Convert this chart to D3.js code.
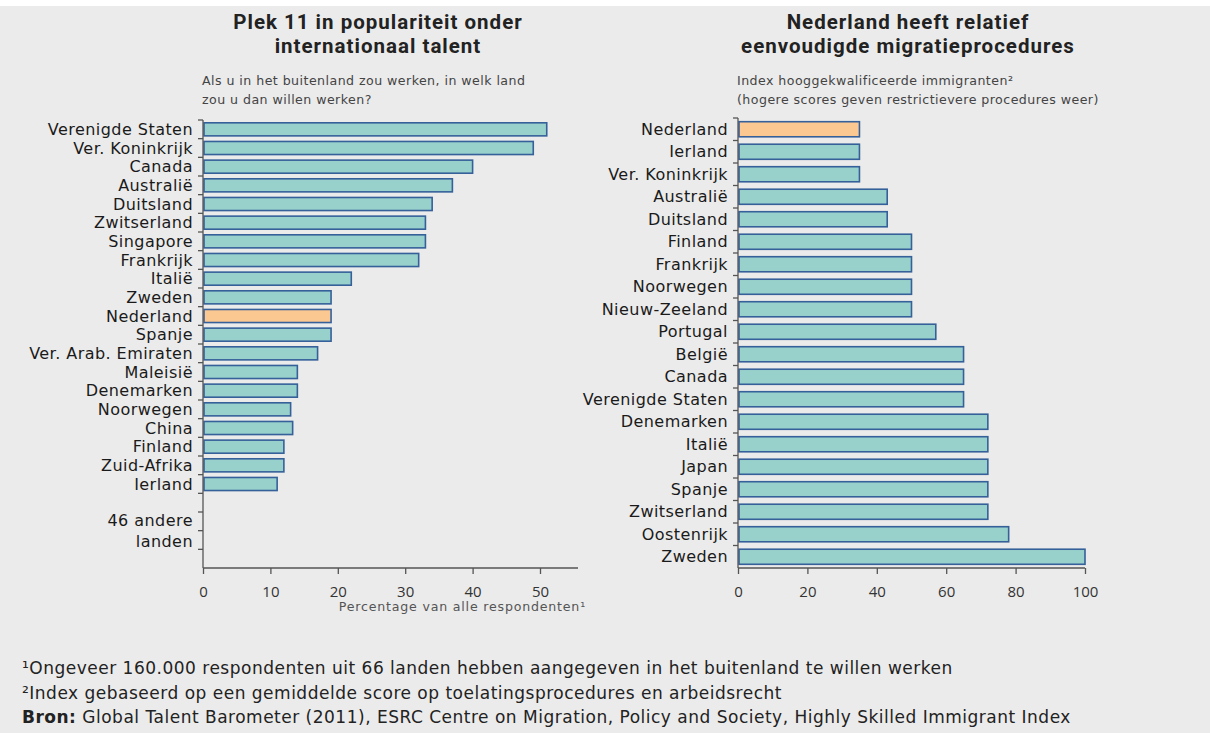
<!DOCTYPE html>
<html>
<head>
<meta charset="utf-8">
<script src="https://cdn.jsdelivr.net/npm/d3@7"></script>
<style>
  html, body { margin: 0; padding: 0; background: #ebebeb; }
  svg { display: block; }
</style>
</head>
<body>
<svg id="chart" width="1210" height="733"></svg>
<script>
// ---------- DATA ----------
const leftCategories = ["Verenigde Staten","Ver. Koninkrijk","Canada","Australië","Duitsland","Zwitserland","Singapore","Frankrijk","Italië","Zweden","Nederland","Spanje","Ver. Arab. Emiraten","Maleisië","Denemarken","Noorwegen","China","Finland","Zuid-Afrika","Ierland"];
const leftValues = [51,49,40,37,34,33,33,32,22,19,19,19,17,14,14,13,13.3,12,12,11];
const leftOtherLabel = ["46 andere", "landen"];
const leftTicks = [0,10,20,30,40,50];

const rightCategories = ["Nederland","Ierland","Ver. Koninkrijk","Australië","Duitsland","Finland","Frankrijk","Noorwegen","Nieuw-Zeeland","Portugal","België","Canada","Verenigde Staten","Denemarken","Italië","Japan","Spanje","Zwitserland","Oostenrijk","Zweden"];
const rightValues = [35,35,35,43,43,50,50,50,50,57,65,65,65,72,72,72,72,72,78,100];
const rightTicks = [0,20,40,60,80,100];

const highlight = "Nederland";

const leftTitle = ["Plek 11 in populariteit onder","internationaal talent"];
const leftSubtitle = ["Als u in het buitenland zou werken, in welk land","zou u dan willen werken?"];
const leftAxisTitle = "Percentage van alle respondenten¹";
const rightTitle = ["Nederland heeft relatief","eenvoudigde migratieprocedures"];
const rightSubtitle = ["Index hooggekwalificeerde immigranten²","(hogere scores geven restrictievere procedures weer)"];
const footnotes = [
  {bold: "", text: "¹Ongeveer 160.000 respondenten uit 66 landen hebben aangegeven in het buitenland te willen werken"},
  {bold: "", text: "²Index gebaseerd op een gemiddelde score op toelatingsprocedures en arbeidsrecht"},
  {bold: "Bron:", text: " Global Talent Barometer (2011), ESRC Centre on Migration, Policy and Society, Highly Skilled Immigrant Index"}
];

// ---------- STYLE ----------
const BAR_FILL = "#98d0cb";
const BAR_HL = "#fcc891";
const BAR_STROKE = "#35609a";
const AXIS = "#555";
const BODY_FONT = "'DejaVu Sans', sans-serif";
const TITLE_FONT = "Roboto, 'Liberation Sans', sans-serif";
const TICK_FONT = "'Open Sans', 'Noto Sans', sans-serif";

const svg = d3.select("#chart");
svg.append("rect").attr("width",1210).attr("height",733).attr("fill","#ebebeb");
svg.append("rect").attr("width",1210).attr("height",6).attr("fill","#ffffff");

function drawPanel(opts) {
  const g = svg.append("g");
  const x = d3.scaleLinear().domain(opts.xDomain).range([opts.x0, opts.x1]);
  const y = d3.scaleBand().domain(opts.slots).range([opts.yTop, opts.yBottom]).paddingInner(opts.pad).paddingOuter(opts.pad/2);
  const yLine = d3.scaleBand().domain(opts.slots).range([opts.yTop, opts.yBottom]);

  // title
  opts.title.forEach((t,i) => {
    g.append("text").attr("x", opts.titleX).attr("y", 29 + i*24.3)
      .attr("text-anchor","middle").style("font-size", "20.5px").style("font-weight", 700)
      .style("font-family", TITLE_FONT).style("letter-spacing", "1px")
      .attr("fill", "#222").text(t);
  });
  // subtitle
  opts.subtitle.forEach((t,i) => {
    g.append("text").attr("x", opts.x0 - 1).attr("y", 85 + i*18.5)
      .style("font-family", BODY_FONT).style("font-size", "12.6px").style("letter-spacing", "0.45px")
      .attr("fill", "#444").text(t);
  });

  // bars
  g.selectAll("rect.bar").data(opts.categories).join("rect")
    .attr("class","bar")
    .attr("x", x(0) + 1)
    .attr("y", d => y(d))
    .attr("width", (d,i) => x(opts.values[i]) - x(0) - 1)
    .attr("height", y.bandwidth())
    .attr("fill", d => d === highlight ? BAR_HL : BAR_FILL)
    .attr("stroke", BAR_STROKE).attr("stroke-width", 1.6);

  // y axis line + ticks at boundaries
  g.append("line").attr("x1", x(0)).attr("x2", x(0))
    .attr("y1", opts.yTop).attr("y2", opts.yBottom).attr("stroke", AXIS).attr("stroke-width",1.3);
  opts.slots.forEach(s => {
    g.append("line").attr("x1", x(0)-5).attr("x2", x(0))
      .attr("y1", yLine(s)).attr("y2", yLine(s)).attr("stroke", AXIS).attr("stroke-width",1.3);
  });

  // category labels
  g.selectAll("text.cat").data(opts.categories).join("text")
    .attr("class","cat")
    .attr("x", x(0) - 10)
    .attr("y", d => yLine(d) + yLine.bandwidth()/2)
    .attr("dy","0.35em").attr("text-anchor","end")
    .style("font-family", BODY_FONT).style("font-size", "16px").style("letter-spacing", "0.45px")
    .attr("fill", "#1a1a1a")
    .text(d => d);

  // x axis
  const xAxis = d3.axisBottom(x).tickValues(opts.ticks).tickSize(6).tickSizeOuter(0).tickPadding(12);
  const ax = g.append("g").attr("transform", `translate(0,${opts.yBottom})`).call(xAxis);
  ax.select(".domain").attr("stroke", AXIS).attr("stroke-width",1.3).attr("d", `M${x(0)},0H${opts.axisEnd}`);
  ax.selectAll(".tick line").attr("stroke", AXIS).attr("stroke-width",1.3);
  ax.selectAll(".tick text").style("font-size", "15px").attr("fill", "#333").style("font-family", TICK_FONT);
  return {g, x, y, yLine};
}

// left panel
const leftSlots = leftCategories.concat(["_o1","_o2","_o3","_o4"]);
const L = drawPanel({
  categories: leftCategories, values: leftValues, slots: leftSlots,
  xDomain: [0, 50], x0: 203, x1: 540, axisEnd: 578,
  yTop: 120, yBottom: 568, pad: 0.3, ticks: leftTicks,
  title: leftTitle, subtitle: leftSubtitle, titleX: 378
});
const otherMid = L.yLine("_o3");
leftOtherLabel.forEach((t,i) => {
  L.g.append("text").attr("x", 193).attr("y", otherMid + (i-0.5)*21)
    .attr("dy","0.35em").attr("text-anchor","end")
    .style("font-family", BODY_FONT).style("font-size", "16px").style("letter-spacing", "0.45px")
    .attr("fill", "#1a1a1a").text(t);
});
L.g.append("text").attr("x", 586).attr("y", 611).attr("text-anchor","end")
  .style("font-family", BODY_FONT).style("font-size", "12.6px").style("letter-spacing", "0.8px")
  .attr("fill", "#555").text(leftAxisTitle);

// right panel
drawPanel({
  categories: rightCategories, values: rightValues, slots: rightCategories,
  xDomain: [0, 100], x0: 738, x1: 1085, axisEnd: 1085,
  yTop: 118, yBottom: 568, pad: 0.33, ticks: rightTicks,
  title: rightTitle, subtitle: rightSubtitle, titleX: 908
});

// footnotes
footnotes.forEach((f,i) => {
  const t = svg.append("text").attr("x", 22).attr("y", 674 + i*24.5)
    .style("font-family", BODY_FONT).style("font-size", "17px").style("letter-spacing", "0.5px")
    .attr("fill", "#222");
  if (f.bold) t.append("tspan").style("font-weight", 700).text(f.bold);
  t.append("tspan").text(f.text);
});
</script>
</body>
</html>
